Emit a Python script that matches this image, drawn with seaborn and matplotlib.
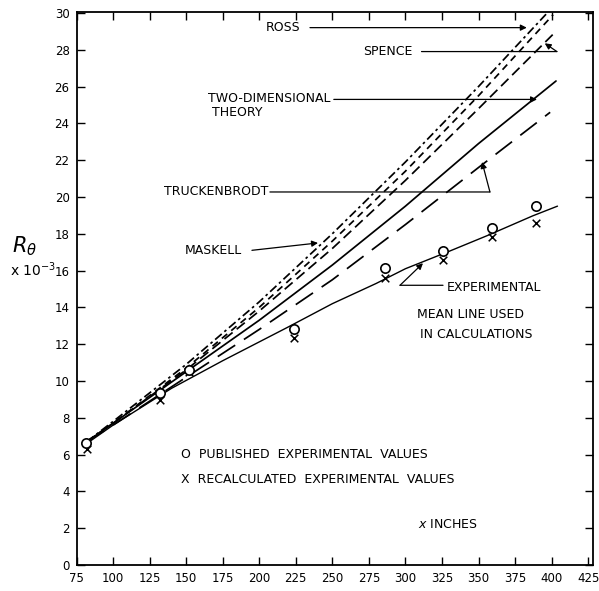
import matplotlib
matplotlib.use("Agg")
import matplotlib.pyplot as plt
import seaborn as sns

# ---------------- data ----------------
x_ticks = [75, 100, 125, 150, 175, 200, 225, 250, 275, 300, 325, 350, 375, 400, 425]
y_ticks = [0, 2, 4, 6, 8, 10, 12, 14, 16, 18, 20, 22, 24, 26, 28, 30]

ross_x = [82, 100, 150, 200, 250, 300, 350, 397]
ross_y = [6.7, 7.8, 10.9, 14.3, 18.0, 21.9, 26.0, 30.0]

maskell_x = [82, 100, 150, 200, 250, 300, 350, 401]
maskell_y = [6.7, 7.7, 10.7, 14.0, 17.6, 21.4, 25.5, 29.9]

spence_x = [82, 100, 150, 200, 250, 300, 350, 403]
spence_y = [6.7, 7.7, 10.6, 13.8, 17.2, 20.9, 24.8, 29.0]

twod_x = [82, 100, 150, 200, 250, 300, 350, 403]
twod_y = [6.7, 7.7, 10.5, 13.3, 16.3, 19.5, 22.9, 26.3]

truck_x = [82, 100, 150, 200, 250, 300, 350, 399]
truck_y = [6.7, 7.6, 10.2, 12.8, 15.5, 18.5, 21.6, 24.6]

mean_x = [82, 100, 140, 175, 219, 250, 280, 300, 330, 356, 387, 404]
mean_y = [6.6, 7.6, 9.6, 11.1, 12.9, 14.2, 15.3, 16.1, 17.05, 17.9, 18.97, 19.5]

pub_x = [81.5, 132, 152, 224, 286, 325.5, 359.4, 389.3]
pub_y = [6.65, 9.36, 10.6, 12.8, 16.14, 17.08, 18.3, 19.5]

rec_x = [82.5, 132, 152, 224, 286, 325.5, 359.4, 389.3]
rec_y = [6.3, 8.97, 10.5, 12.35, 15.58, 16.58, 17.84, 18.6]

# ---------------- figure ----------------
sns.set_theme(style="ticks")
plt.rcParams['font.family'] = ['DejaVu Sans']
plt.rcParams['text.color'] = 'black'
plt.rcParams['axes.labelcolor'] = 'black'
plt.rcParams['xtick.color'] = 'black'
plt.rcParams['ytick.color'] = 'black'

W, H = 599, 591
fig = plt.figure(figsize=(W / 100, H / 100), dpi=100)
ax = fig.add_axes([76.5 / W, 26 / H, (593 - 76.5) / W, (565 - 12) / H])

lw = 1.25
sns.lineplot(x=ross_x, y=ross_y, ax=ax, color="black", lw=lw, sort=False,
             linestyle=(0, (5, 2, 1.5, 2)))
sns.lineplot(x=maskell_x, y=maskell_y, ax=ax, color="black", lw=lw, sort=False,
             linestyle=(0, (4, 3)))
sns.lineplot(x=spence_x, y=spence_y, ax=ax, color="black", lw=lw, sort=False,
             linestyle=(0, (6, 3)))
sns.lineplot(x=twod_x, y=twod_y, ax=ax, color="black", lw=lw, sort=False)
sns.lineplot(x=truck_x, y=truck_y, ax=ax, color="black", lw=lw, sort=False,
             linestyle=(0, (12, 6)))
sns.lineplot(x=mean_x, y=mean_y, ax=ax, color="black", lw=1.0, sort=False)

sns.scatterplot(x=rec_x, y=rec_y, ax=ax, marker="x", color="black", s=30,
                linewidth=1.1, zorder=5)
sns.scatterplot(x=pub_x, y=pub_y, ax=ax, marker="o", facecolor="white",
                edgecolor="black", s=45, linewidth=1.2, zorder=6)

ax.set_xlim(75, 428.3)
ax.set_ylim(0, 30.05)
ax.set_xticks(x_ticks)
ax.set_xticklabels([str(t) for t in x_ticks])
ax.set_yticks(y_ticks)
ax.set_yticklabels([str(t) for t in y_ticks])
ax.tick_params(direction="in", length=6, width=1.0, top=True, right=True,
               labelsize=8.5, colors="black", pad=5)
for s in ax.spines.values():
    s.set_linewidth(1.3)
    s.set_color("black")
ax.set_xlabel("")
ax.set_ylabel("")

fs = 9
arrow = dict(arrowstyle="-|>", color="black", lw=0.9, shrinkA=0, shrinkB=0,
             mutation_scale=9)
plain = dict(arrowstyle="-", color="black", lw=0.9, shrinkA=0, shrinkB=0)

# ROSS
ax.text(216, 29.2, "ROSS", fontsize=fs, ha="center", va="center")
ax.annotate("", xy=(383, 29.2), xytext=(234.7, 29.2), arrowprops=arrow)
# SPENCE
ax.text(288, 27.9, "SPENCE", fontsize=fs, ha="center", va="center")
ax.annotate("", xy=(403.6, 27.9), xytext=(311, 27.9), arrowprops=plain)
ax.annotate("", xy=(395.3, 28.35), xytext=(403.6, 27.9), arrowprops=arrow)
# TWO-DIMENSIONAL THEORY
ax.text(249, 25.33, "TWO-DIMENSIONAL", fontsize=fs, ha="right", va="center")
ax.text(185, 24.6, "THEORY", fontsize=fs, ha="center", va="center")
ax.annotate("", xy=(390, 25.3), xytext=(251, 25.3), arrowprops=arrow)
# TRUCKENBRODT
ax.text(170.5, 20.27, "TRUCKENBRODT", fontsize=fs, ha="center", va="center")
ax.annotate("", xy=(357.8, 20.27), xytext=(207.3, 20.27), arrowprops=plain)
ax.annotate("", xy=(352.4, 21.9), xytext=(357.8, 20.27), arrowprops=arrow)
# MASKELL
ax.text(168.4, 17.1, "MASKELL", fontsize=fs, ha="center", va="center")
ax.annotate("", xy=(240.2, 17.5), xytext=(195, 17.1), arrowprops=arrow)
# EXPERIMENTAL MEAN LINE
ax.text(328.3, 15.1, "EXPERIMENTAL", fontsize=fs, ha="left", va="center")
ax.text(307.8, 13.6, "MEAN LINE USED", fontsize=fs, ha="left", va="center")
ax.text(309.9, 12.55, "IN CALCULATIONS", fontsize=fs, ha="left", va="center")
ax.annotate("", xy=(296.3, 15.2), xytext=(325.7, 15.2), arrowprops=plain)
ax.annotate("", xy=(312, 16.4), xytext=(296.3, 15.2), arrowprops=arrow)

# legend text
ax.text(146.6, 5.98, "O  PUBLISHED  EXPERIMENTAL  VALUES", fontsize=fs,
        ha="left", va="center")
ax.text(146.6, 4.62, "X  RECALCULATED  EXPERIMENTAL  VALUES", fontsize=fs,
        ha="left", va="center")

ax.text(329, 2.2, r"$x$ INCHES", fontsize=fs, ha="center", va="center")

fig.text(12 / W, 1 - 246 / H, r"$R_{\theta}$", fontsize=15, ha="left",
         va="center")
fig.text(10 / W, 1 - 270 / H, r"x 10$^{-3}$", fontsize=10, ha="left",
         va="center")

fig.savefig("out.png", dpi=100, facecolor="white")
